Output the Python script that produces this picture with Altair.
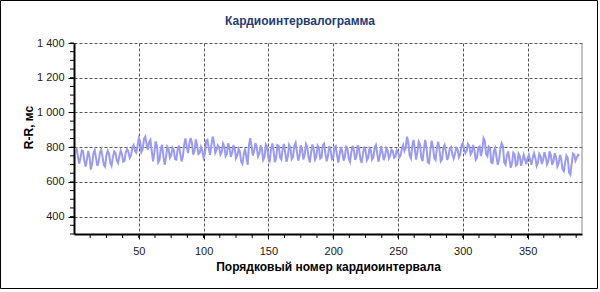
import altair as alt
import pandas as pd

rr_values = [
    785, 792, 748, 705, 738, 781, 776, 722, 689, 731,
    778, 741, 671, 702, 765, 783, 737, 692, 714, 769,
    786, 745, 698, 688, 752, 779, 762, 711, 694, 743,
    776, 768, 724, 709, 748, 781, 759, 716, 722, 771,
    790, 772, 738, 751, 798, 812, 779, 768, 806, 851,
    835, 772, 790, 848, 861, 818, 784, 831, 842, 776,
    719, 768, 833, 808, 712, 725, 795, 813, 746, 699,
    741, 803, 789, 738, 752, 797, 784, 731, 728, 788,
    809, 762, 718, 746, 812, 851, 803, 766, 821, 853,
    824, 757, 779, 845, 812, 761, 768, 801, 779, 740,
    762, 838, 842, 791, 756, 812, 861, 829, 768, 785,
    811, 798, 757, 772, 820, 802, 748, 761, 823, 795,
    744, 768, 812, 789, 736, 752, 791, 774, 716, 703,
    758, 792, 744, 698, 811, 852, 806, 752, 779, 824,
    801, 746, 762, 810, 788, 727, 743, 815, 803, 735,
    721, 786, 822, 779, 714, 738, 812, 806, 741, 729,
    791, 819, 768, 716, 745, 813, 797, 731, 742, 808,
    825, 774, 722, 748, 811, 789, 729, 754, 818, 802,
    739, 712, 771, 816, 784, 728, 745, 809, 797, 735,
    741, 812, 821, 763, 719, 752, 806, 784, 731, 737,
    798, 806, 752, 711, 758, 801, 776, 722, 744, 803,
    795, 734, 716, 771, 808, 781, 727, 748, 812, 789,
    731, 709, 766, 803, 779, 724, 738, 795, 785, 729,
    741, 799, 813, 762, 716, 753, 806, 771, 725, 748,
    794, 782, 736, 752, 786, 778, 739, 744, 783, 774,
    741, 753, 791, 812, 778, 798, 861, 823, 752, 736,
    801, 842, 789, 728, 771, 832, 815, 741, 719, 788,
    842, 796, 712, 708, 784, 838, 801, 738, 726, 792,
    832, 788, 719, 731, 798, 813, 772, 726, 748, 794,
    801, 758, 735, 762, 796, 788, 741, 756, 809, 823,
    791, 766, 779, 818, 806, 758, 771, 813, 781, 727,
    739, 798, 804, 749, 781, 852, 836, 761, 748, 803,
    794, 712, 709, 778, 796, 745, 699, 728, 789, 823,
    806, 712, 699, 752, 776, 731, 681, 707, 768, 759,
    694, 701, 763, 748, 693, 722, 756, 731, 701, 738,
    756, 724, 699, 741, 765, 738, 692, 711, 762, 747,
    703, 729, 771, 744, 701, 718, 776, 752, 698, 722,
    765, 741, 689, 708, 756, 729, 672, 661, 712, 751,
    738, 655, 642, 703, 764, 758, 722, 741, 756, 751,
]
beat_numbers = list(range(1, len(rr_values) + 1))

x_ticks = [50, 100, 150, 200, 250, 300, 350]
y_ticks = [400, 600, 800, 1000, 1200, 1400]
x_minor = [i * 12.5 for i in range(1, 32)]
y_minor = [300 + i * 50 for i in range(0, 23)]
chart_title = ["Кардиоинтервалограмма"]

X_DOMAIN = [0, 392]
Y_DOMAIN = [300, 1400]
W, H = 508, 191

df = pd.DataFrame({"n": beat_numbers, "rr": rr_values})

xs = alt.Scale(domain=X_DOMAIN, nice=False, zero=False)
ys = alt.Scale(domain=Y_DOMAIN, nice=False, zero=False)

x_axis = alt.Axis(values=x_ticks, title="Порядковый номер кардиоинтервала",
                  grid=True, gridDash=[3, 2], gridColor="#555555", gridWidth=1,
                  domainColor="black", domainWidth=2, tickColor="black", tickSize=5,
                  labelPadding=6, labelFontSize=11, labelColor="#1a1a1a",
                  labelFont="Liberation Sans", titleFont="Liberation Sans",
                  titleFontSize=12, titleFontWeight="bold", titleColor="black",
                  titlePadding=5)
y_axis = alt.Axis(values=y_ticks, title="R-R, мс",
                  labelExpr="replace(format(datum.value, ','), ',', ' ')",
                  grid=True, gridDash=[3, 2], gridColor="#555555", gridWidth=1,
                  domainColor="black", domainWidth=2, tickColor="black", tickSize=6,
                  labelPadding=4, labelFontSize=11, labelColor="#1a1a1a",
                  labelFont="Liberation Sans", titleFont="Liberation Sans",
                  titleFontSize=12, titleFontWeight="bold", titleColor="black",
                  titleAngle=-90, titleX=-46, titleY=84, titleBaseline="middle",
                  titleAlign="center")

line = alt.Chart(df).mark_line(color="#9a9af0", strokeWidth=2, clip=True).encode(
    x=alt.X("n:Q", scale=xs, axis=x_axis),
    y=alt.Y("rr:Q", scale=ys, axis=y_axis),
)

ymin = alt.Chart(pd.DataFrame({"rr": y_minor})).mark_rule(color="black", strokeWidth=1).encode(
    y=alt.Y("rr:Q", scale=ys, axis=y_axis),
    x=alt.value(-4), x2=alt.value(0),
)
xmin = alt.Chart(pd.DataFrame({"n": x_minor})).mark_rule(color="black", strokeWidth=1).encode(
    x=alt.X("n:Q", scale=xs, axis=x_axis),
    y=alt.value(H), y2=alt.value(H + 4),
)
right_border = alt.Chart(pd.DataFrame({"n": [X_DOMAIN[1]]})).mark_rule(color="#8a8a8a", strokeWidth=1).encode(
    x=alt.X("n:Q", scale=xs, axis=x_axis),
    y=alt.value(0), y2=alt.value(H),
)
outer = alt.Chart(pd.DataFrame({"a": [0]})).mark_rect(fill=None, stroke="black", strokeWidth=1).encode(
    x=alt.value(-73.5), x2=alt.value(523.5), y=alt.value(-42.5), y2=alt.value(245.5),
)
title = alt.Chart(pd.DataFrame({"t": chart_title})).mark_text(
    font="Liberation Sans", fontSize=12, fontWeight="bold", color="#1f3b73",
    align="center", baseline="middle",
).encode(text="t:N", x=alt.value(226), y=alt.value(-22))

chart = alt.layer(line, ymin, xmin, right_border, outer, title).properties(
    width=W, height=H,
    padding={"left": 74, "top": 43, "right": 18, "bottom": 58},
    autosize=alt.AutoSizeParams(type="none"),
    background="white",
).configure_view(stroke=None)

chart.save("out.html", embed_options={"renderer": "svg", "actions": False})
